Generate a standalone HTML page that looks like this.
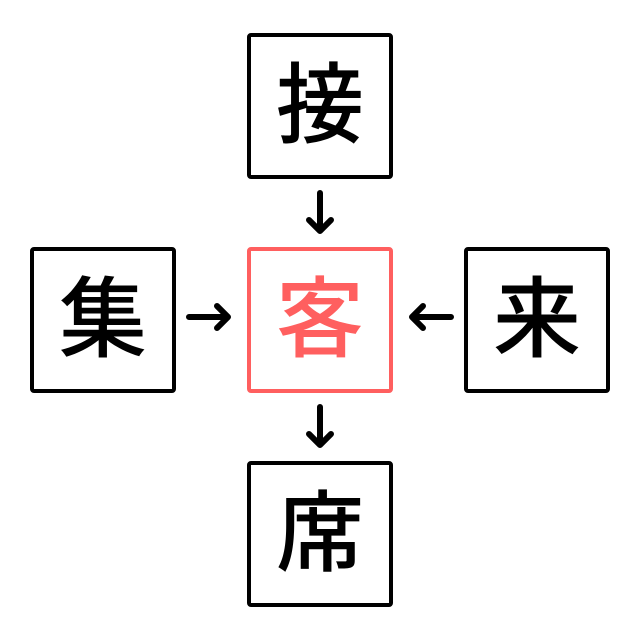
<!DOCTYPE html>
<html><head><meta charset="utf-8"><style>
html,body{margin:0;padding:0;background:#fff;}
body{width:640px;height:640px;position:relative;overflow:hidden;}
.b{position:absolute;width:138px;height:138px;border:4px solid #000;border-radius:4px;display:flex;align-items:center;justify-content:center;font-family:"Liberation Sans","Noto Sans CJK JP",sans-serif;font-weight:500;font-size:88px;line-height:1;color:#000;}
.c{border-color:#ff5f5f;color:#ff5f5f;}
svg{position:absolute;left:0;top:0;}
</style></head><body>
<div class="b" style="left:247px;top:33px;">接</div>
<div class="b" style="left:30px;top:247px;">集</div>
<div class="b c" style="left:247px;top:247px;">客</div>
<div class="b" style="left:464px;top:247px;">来</div>
<div class="b" style="left:247px;top:461px;">席</div>
<svg width="640" height="640" fill="none" stroke="#000" stroke-width="6" stroke-linecap="round" stroke-linejoin="round">
<path d="M320 193V231M309 220L320 231L331 220"/>
<path d="M320 407V445M309 434L320 445L331 434"/>
<path d="M189 317H228M217 306L228 317L217 328"/>
<path d="M451 317H412M423 306L412 317L423 328"/>
</svg>
</body></html>
